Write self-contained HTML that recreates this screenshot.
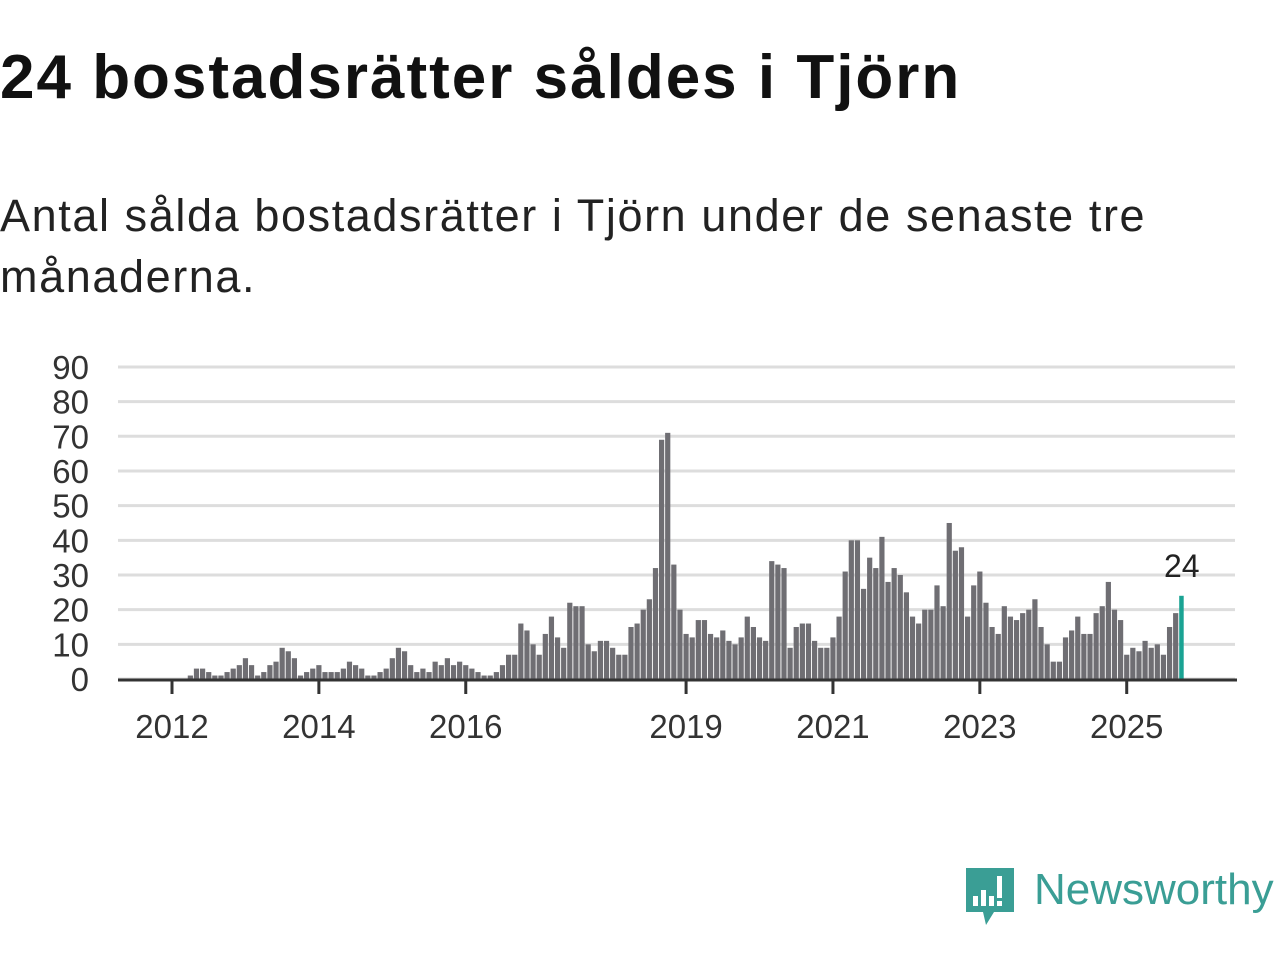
<!DOCTYPE html>
<html><head><meta charset="utf-8"><style>
body{margin:0;width:1280px;height:960px;background:#fff;overflow:hidden;font-family:"Liberation Sans",sans-serif;}
h1{position:absolute;left:0;top:42px;margin:0;font-size:62px;font-weight:bold;color:#111;letter-spacing:2px}
.sub{position:absolute;left:0;top:185px;margin:0;font-size:45px;color:#222;line-height:61px;width:1200px;letter-spacing:1.6px}
svg{position:absolute;left:0;top:0}
</style></head><body>
<h1>24 bostadsrätter såldes i Tjörn</h1>
<p class="sub">Antal sålda bostadsrätter i Tjörn under de senaste tre månaderna.</p>
<svg id="chart" width="1280" height="960">
<g>
<path d="M966 868 h48 v44 h-20 l-8 13 l-3 -13 h-17 z" fill="#3a9e95"/>
<rect x="973" y="896" width="5" height="10" fill="#fff"/><rect x="981" y="890" width="5" height="16" fill="#fff"/><rect x="989" y="896" width="5" height="10" fill="#fff"/><rect x="997" y="876" width="5" height="22" fill="#fff"/><rect x="997" y="901" width="5" height="5" fill="#fff"/>
<text x="1034" y="904" font-size="44" fill="#3a9e95" font-family="Liberation Sans, sans-serif">Newsworthy</text>
</g>
</svg>
<script>
const values=[1,3,3,2,1,1,2,3,4,6,4,1,2,4,5,9,8,6,1,2,3,4,2,2,2,3,5,4,3,1,1,2,3,6,9,8,4,2,3,2,5,4,6,4,5,4,3,2,1,1,2,4,7,7,16,14,10,7,13,18,12,9,22,21,21,10,8,11,11,9,7,7,15,16,20,23,32,69,71,33,20,13,12,17,17,13,12,14,11,10,12,18,15,12,11,34,33,32,9,15,16,16,11,9,9,12,18,31,40,40,26,35,32,41,28,32,30,25,18,16,20,20,27,21,45,37,38,18,27,31,22,15,13,21,18,17,19,20,23,15,10,5,5,12,14,18,13,13,19,21,28,20,17,7,9,8,11,9,10,7,15,19,24];
const yTicks=[0,10,20,30,40,50,60,70,80,90];
const years=[2012,2014,2016,2019,2021,2023,2025];
const NS='http://www.w3.org/2000/svg';
const svg=document.getElementById('chart');
const y0=679,pxPer=3.467,monthW=6.12,jan2012=172;
const y=v=>y0-v*pxPer;
const xMonth=m=>jan2012+m*monthW;
const startM=165-(values.length-1);
function mk(t,a){const e=document.createElementNS(NS,t);for(const k in a)e.setAttribute(k,a[k]);svg.appendChild(e);return e;}
yTicks.forEach(v=>{
 const l=mk('line',{x1:118,x2:1235,y1:y(v),y2:y(v),stroke:'#ddd','stroke-width':3});
 
 
 const t=mk('text',{x:89,y:y(v)+12,'text-anchor':'end','font-size':33,fill:'#333'});
 t.textContent=v;
 
 
});
values.forEach((v,i)=>{
 const last=i===values.length-1;
 const x=xMonth(startM+i);
 const r=mk('rect',{x:x-2.6,y:y(v),width:last?4.5:5.2,height:v*pxPer,fill:last?'#1aa393':'#6f6e73'});
 
 
 if(last){const t=mk('text',{x:x,y:y(v)-19,'text-anchor':'middle','font-size':32,fill:'#222'});t.textContent=v;
 
 }
});
const ax=mk('line',{x1:118,x2:1237,y1:680,y2:680,stroke:'#333','stroke-width':3});


years.forEach(yr=>{
 const x=xMonth((yr-2012)*12);
 const tk=mk('line',{x1:x,x2:x,y1:680,y2:694,stroke:'#333','stroke-width':3});
 
 
 const t=mk('text',{x:x,y:738,'text-anchor':'middle','font-size':33,fill:'#333'});
 t.textContent=yr;
 
 
});
</script>
</body></html>
